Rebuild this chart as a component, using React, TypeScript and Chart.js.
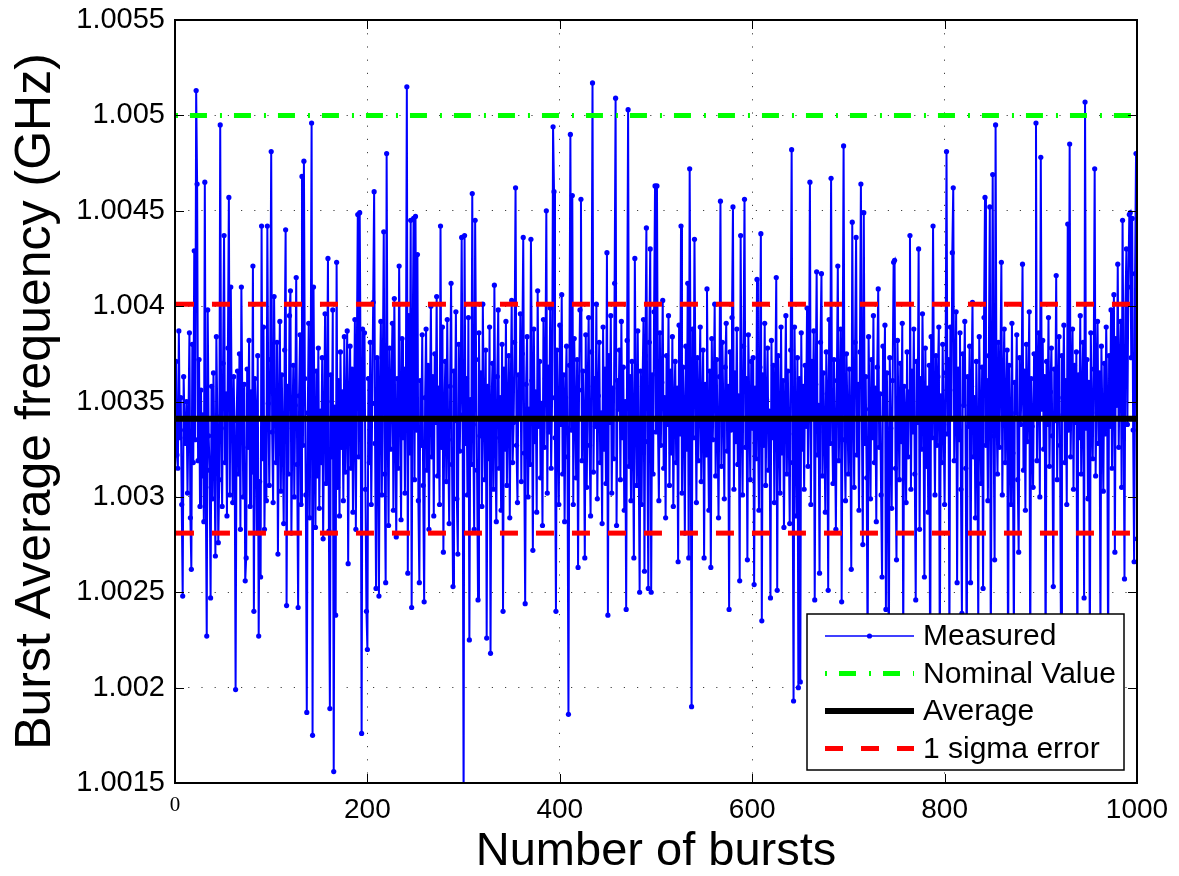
import React, { useEffect, useRef } from "react";
import { Chart, registerables } from "chart.js";

Chart.register(...registerables);

// ---- axis ticks ----
const xTickValues = [0, 200, 400, 600, 800, 1000];
const yTickValues = [1.0015, 1.002, 1.0025, 1.003, 1.0035, 1.004, 1.0045, 1.005, 1.0055];

// ---- reference levels (GHz) ----
const nominalValue = 1.005;
const averageValue = 1.00341;
const sigmaUpper = 1.00401;
const sigmaLower = 1.00281;
const burstSpan = [1, 1000];

// ---- measured burst average frequency (GHz), bursts 1..1000 ----
const measured001to100 = [
  1.00371, 1.00322, 1.00315, 1.00387, 1.00331, 1.00352, 1.00296, 1.00248, 1.00363, 1.00335,
  1.00328, 1.0035, 1.00302, 1.00341, 1.00386, 1.00289, 1.00262, 1.0038, 1.00318, 1.00429,
  1.0033, 1.00513, 1.00464, 1.00319, 1.00372, 1.00295, 1.00356, 1.00311, 1.00343, 1.00287,
  1.00465, 1.00305, 1.00227, 1.00398, 1.00332, 1.00314, 1.00247, 1.00358, 1.00299, 1.00365,
  1.00321, 1.00269, 1.00384, 1.00342, 1.00276, 1.00309, 1.00495, 1.00336, 1.00295, 1.0037,
  1.00437, 1.00318, 1.00354, 1.0029, 1.00378, 1.00457, 1.00301, 1.0041, 1.00345, 1.00297,
  1.00363, 1.00327, 1.00199, 1.0034, 1.00366, 1.00312, 1.00375, 1.00283, 1.0041, 1.00349,
  1.003, 1.00359, 1.00256, 1.00268, 1.00367, 1.00326, 1.00382, 1.00295, 1.00355, 1.00313,
  1.00421, 1.0024, 1.00362, 1.00345, 1.00281, 1.00374, 1.00227, 1.00308, 1.00258, 1.00442,
  1.0032, 1.00389, 1.00283, 1.00339, 1.00298, 1.00442, 1.00349, 1.00306, 1.00372, 1.00481,
];
const measured101to200 = [
  1.00334, 1.00297, 1.00405, 1.00352, 1.00318, 1.00381, 1.0027, 1.00346, 1.00392, 1.00303,
  1.00364, 1.00329, 1.00286, 1.00377, 1.0044, 1.00243, 1.00358, 1.00312, 1.00395, 1.00408,
  1.00281, 1.00336, 1.00369, 1.003, 1.00348, 1.00415, 1.00317, 1.00242, 1.00353, 1.00385,
  1.00296, 1.00468, 1.00327, 1.00476, 1.00362, 1.00301, 1.00187, 1.00344, 1.00391, 1.00289,
  1.00357, 1.00496, 1.00175, 1.0041, 1.00333, 1.00284, 1.00366, 1.00311, 1.00378, 1.00294,
  1.00345, 1.00318, 1.00373, 1.00278, 1.00339, 1.00396, 1.00307, 1.0035, 1.00425, 1.00282,
  1.00189, 1.00364, 1.00321, 1.00398, 1.00156, 1.00347, 1.00238, 1.00423, 1.00305, 1.00361,
  1.0029, 1.00376, 1.00326, 1.00355, 1.00298, 1.00384, 1.00313, 1.00343, 1.00387, 1.00265,
  1.00352, 1.00379, 1.00315, 1.00367, 1.00292, 1.00338, 1.00393, 1.00283, 1.00372, 1.00448,
  1.00321, 1.00449, 1.00359, 1.00176, 1.00388, 1.00342, 1.00386, 1.00304, 1.0024, 1.0022,
];
const measured201to300 = [
  1.00362, 1.00318, 1.00381, 1.00296, 1.00349, 1.00402, 1.0046, 1.00328, 1.00252, 1.00373,
  1.00336, 1.00248, 1.00359, 1.00392, 1.00301, 1.00365, 1.00439, 1.00312, 1.00255, 1.0048,
  1.00341, 1.00285, 1.00378, 1.00325, 1.00356, 1.00391, 1.00293, 1.00404, 1.00337, 1.00279,
  1.00362, 1.00315, 1.00421, 1.00346, 1.00288, 1.00383, 1.00331, 1.00367, 1.00302, 1.00354,
  1.00515, 1.0026, 1.00395, 1.00323, 1.00445, 1.00242, 1.00376, 1.00446, 1.00309, 1.00447,
  1.00335, 1.00427, 1.00298, 1.00255, 1.00361, 1.00327, 1.00385, 1.00306, 1.00245, 1.00352,
  1.00388, 1.00314, 1.00369, 1.00283, 1.00347, 1.004, 1.00321, 1.00363, 1.0029, 1.00375,
  1.00339, 1.00405, 1.00311, 1.00357, 1.00296, 1.00442, 1.00326, 1.00389, 1.00271, 1.00345,
  1.00371, 1.00308, 1.00393, 1.0033, 1.00286, 1.00358, 1.00412, 1.00317, 1.00253, 1.00366,
  1.0034, 1.00397, 1.00299, 1.0027, 1.0038, 1.00324, 1.00354, 1.00436, 1.00343, 1.00138,
];
const measured301to400 = [
  1.00437, 1.00328, 1.00362, 1.00301, 1.00394, 1.00225, 1.00351, 1.00317, 1.00459, 1.00338,
  1.00283, 1.00445, 1.00372, 1.00314, 1.00246, 1.00386, 1.00332, 1.00365, 1.00295, 1.00401,
  1.00344, 1.00309, 1.00377, 1.00226, 1.00358, 1.0032, 1.00389, 1.00218, 1.00347, 1.0037,
  1.00304, 1.00411, 1.00331, 1.00287, 1.00363, 1.00398, 1.00315, 1.00352, 1.00293, 1.0038,
  1.0024, 1.00367, 1.00325, 1.00392, 1.00306, 1.00348, 1.00374, 1.00289, 1.00356, 1.00403,
  1.00318, 1.00339, 1.00381, 1.00462, 1.00327, 1.00297, 1.00364, 1.00342, 1.00396, 1.00308,
  1.00375, 1.00436, 1.00323, 1.00244, 1.00359, 1.00384, 1.003, 1.00346, 1.00317, 1.00435,
  1.00361, 1.00272, 1.00388, 1.00329, 1.00355, 1.00292, 1.00408, 1.00337, 1.00371, 1.0031,
  1.00349, 1.00285, 1.00393, 1.00326, 1.00362, 1.0045, 1.00302, 1.00368, 1.00334, 1.00399,
  1.00315, 1.00352, 1.00494, 1.0046, 1.00331, 1.0024, 1.00377, 1.00343, 1.00296, 1.0039,
];
const measured401to500 = [
  1.00338, 1.00406, 1.00312, 1.00364, 1.00287, 1.00352, 1.00379, 1.00321, 1.00186, 1.00369,
  1.0049, 1.00335, 1.00458, 1.00296, 1.00383, 1.00347, 1.0031, 1.00372, 1.00263, 1.00356,
  1.00398, 1.00456, 1.00319, 1.00366, 1.00341, 1.00268, 1.00385, 1.00305, 1.00358, 1.00394,
  1.00327, 1.0029, 1.00376, 1.00517, 1.00313, 1.00362, 1.00337, 1.00401, 1.00299, 1.00353,
  1.00381, 1.00318, 1.00344, 1.00286, 1.00389, 1.00325, 1.00367, 1.00307, 1.00428, 1.00238,
  1.00374, 1.00339, 1.00395, 1.00302, 1.00357, 1.0032, 1.00412, 1.00509, 1.00285, 1.00361,
  1.00346, 1.00377, 1.00309, 1.00392, 1.00331, 1.00368, 1.00293, 1.0035, 1.00241, 1.00382,
  1.00503, 1.00316, 1.00363, 1.00298, 1.00371, 1.00335, 1.00268, 1.00425, 1.00344, 1.00306,
  1.00387, 1.00322, 1.0025, 1.00366, 1.00296, 1.00358, 1.00393, 1.00261, 1.00374, 1.00441,
  1.00329, 1.00252, 1.00381, 1.0043, 1.0025, 1.00364, 1.00312, 1.00397, 1.00463, 1.00334,
];
const measured501to600 = [
  1.00463, 1.00341, 1.00298, 1.00386, 1.00327, 1.0036, 1.00403, 1.00315, 1.00352, 1.00289,
  1.00374, 1.00338, 1.00395, 1.00306, 1.00366, 1.00323, 1.00384, 1.00295, 1.00349, 1.00371,
  1.00318, 1.00357, 1.00266, 1.0039, 1.00333, 1.00442, 1.00302, 1.00368, 1.00345, 1.00281,
  1.00379, 1.00325, 1.00412, 1.00268, 1.00472, 1.00354, 1.0019, 1.00388, 1.00331, 1.00435,
  1.00362, 1.00297, 1.00373, 1.00319, 1.0035, 1.00389, 1.00308, 1.00346, 1.00377, 1.00268,
  1.00359, 1.00322, 1.00409, 1.00341, 1.00293, 1.00366, 1.00263, 1.00383, 1.0033, 1.00356,
  1.00401, 1.00311, 1.00372, 1.00337, 1.00289, 1.00363, 1.00455, 1.00316, 1.00381, 1.00347,
  1.00299, 1.00368, 1.00391, 1.00324, 1.00358, 1.00241, 1.00376, 1.00335, 1.00394, 1.00452,
  1.00304, 1.00365, 1.00329, 1.00388, 1.00317, 1.00353, 1.00256, 1.00437, 1.00342, 1.00301,
  1.00379, 1.00456, 1.00326, 1.00362, 1.00267, 1.00385, 1.00348, 1.00309, 1.00371, 1.00336,
];
const measured601to700 = [
  1.00373, 1.00254, 1.00357, 1.0032, 1.00414, 1.00339, 1.00293, 1.00368, 1.00438, 1.00235,
  1.00364, 1.00327, 1.00391, 1.00306, 1.00351, 1.00378, 1.00314, 1.00345, 1.00247, 1.00382,
  1.00331, 1.00369, 1.00297, 1.00356, 1.00415, 1.00251, 1.00374, 1.00338, 1.00302, 1.00389,
  1.00323, 1.00361, 1.00284, 1.00347, 1.00395, 1.00312, 1.00366, 1.00333, 1.00286, 1.00377,
  1.00482, 1.00318, 1.00193, 1.00389, 1.0034, 1.0029, 1.00373, 1.002, 1.00362, 1.00203,
  1.00386, 1.00325, 1.00358, 1.00304, 1.00369, 1.00337, 1.00399, 1.00316, 1.00352, 1.00465,
  1.00296, 1.00371, 1.00343, 1.00387, 1.00246, 1.00359, 1.00418, 1.00322, 1.00348, 1.0026,
  1.00381, 1.00417, 1.00311, 1.00365, 1.00334, 1.00292, 1.00376, 1.00354, 1.00251, 1.00393,
  1.00328, 1.00467, 1.00345, 1.00307, 1.00372, 1.00337, 1.00283, 1.00361, 1.00421, 1.00319,
  1.0035, 1.00388, 1.00245, 1.00366, 1.00484, 1.0033, 1.00298, 1.00375, 1.00344, 1.00312,
];
const measured701to800 = [
  1.00367, 1.00333, 1.00262, 1.00444, 1.00352, 1.00305, 1.00381, 1.00436, 1.00322, 1.00359,
  1.00293, 1.00376, 1.00464, 1.00341, 1.00275, 1.00449, 1.00328, 1.00363, 1.0031, 1.00215,
  1.00384, 1.00346, 1.00299, 1.00372, 1.00331, 1.00395, 1.00318, 1.00357, 1.00287, 1.00368,
  1.00409, 1.00326, 1.00354, 1.00301, 1.00258, 1.00379, 1.00342, 1.0039, 1.00241, 1.00365,
  1.0032, 1.00205, 1.00373, 1.00336, 1.00294, 1.00361, 1.00423, 1.00424, 1.00315, 1.00267,
  1.00382, 1.00347, 1.00309, 1.0037, 1.00329, 1.00391, 1.00222, 1.00358, 1.00343, 1.00297,
  1.00376, 1.00321, 1.00355, 1.00437, 1.00304, 1.00366, 1.00334, 1.00388, 1.00312, 1.00246,
  1.00371, 1.00339, 1.0043, 1.00283, 1.00362, 1.00325, 1.00396, 1.0035, 1.00258, 1.00378,
  1.00316, 1.00357, 1.00292, 1.00369, 1.00198, 1.00384, 1.00331, 1.00442, 1.00346, 1.00301,
  1.00374, 1.00327, 1.00363, 1.00389, 1.0021, 1.00353, 1.00318, 1.0038, 1.00338, 1.00296,
];
const measured801to900 = [
  1.00365, 1.00481, 1.00333, 1.00372, 1.0022, 1.00389, 1.00341, 1.00428, 1.00462, 1.00319,
  1.00356, 1.00397, 1.00255, 1.00367, 1.0033, 1.00386, 1.00304, 1.00239, 1.00375, 1.00348,
  1.00392, 1.00315, 1.00208, 1.00363, 1.00337, 1.00379, 1.00255, 1.00358, 1.00402, 1.00321,
  1.00352, 1.00289, 1.00371, 1.00336, 1.0023, 1.00384, 1.00345, 1.00307, 1.00368, 1.00252,
  1.00394, 1.00457, 1.00327, 1.00361, 1.00298, 1.00374, 1.00452, 1.00215, 1.0035, 1.00469,
  1.00332, 1.00267, 1.00495, 1.00343, 1.00312, 1.00381, 1.00326, 1.00365, 1.00423, 1.00301,
  1.00357, 1.00388, 1.00318, 1.00349, 1.00377, 1.00202, 1.00369, 1.00335, 1.00296, 1.00391,
  1.00323, 1.00225, 1.0036, 1.00344, 1.00385, 1.00309, 1.00271, 1.00373, 1.00338, 1.00356,
  1.00422, 1.00314, 1.00366, 1.00293, 1.0038, 1.00329, 1.00351, 1.00397, 1.00212, 1.00362,
  1.00337, 1.00305, 1.00375, 1.00343, 1.00496, 1.00319, 1.00359, 1.00386, 1.003, 1.00478,
];
const measured901to1000 = [
  1.00346, 1.00382, 1.00325, 1.00363, 1.0021, 1.00371, 1.00338, 1.00394, 1.00316, 1.00355,
  1.00378, 1.00332, 1.00253, 1.00367, 1.0034, 1.00416, 1.00309, 1.00352, 1.00384, 1.00327,
  1.00222, 1.00374, 1.00343, 1.0039, 1.00318, 1.00361, 1.00296, 1.00443, 1.00335, 1.00485,
  1.00321, 1.00358, 1.00388, 1.00304, 1.00369, 1.00339, 1.00376, 1.00205, 1.00364, 1.00331,
  1.00395, 1.00312, 1.00354, 1.00381, 1.00247, 1.00507, 1.00336, 1.00372, 1.00299, 1.0036,
  1.00215, 1.00386, 1.00344, 1.0032, 1.00367, 1.00472, 1.00311, 1.00357, 1.00392, 1.00328,
  1.00365, 1.00228, 1.00379, 1.00342, 1.00303, 1.0037, 1.00333, 1.00389, 1.00351, 1.00212,
  1.00374, 1.00337, 1.00398, 1.00315, 1.00362, 1.00406, 1.00271, 1.00383, 1.00348, 1.00422,
  1.00326, 1.00366, 1.00392, 1.00305, 1.00445, 1.00359, 1.00257, 1.00401, 1.0043, 1.00338,
  1.0041, 1.00448, 1.00449, 1.00373, 1.00446, 1.00335, 1.00266, 1.00417, 1.0048, 1.00278,
];

const measuredValues = [
  ...measured001to100, ...measured101to200, ...measured201to300, ...measured301to400,
  ...measured401to500, ...measured501to600, ...measured601to700, ...measured701to800,
  ...measured801to900, ...measured901to1000,
];

const FONT = "'Liberation Sans', Arial, Helvetica, sans-serif";

const framePlugin = {
  id: "matlabFrame",
  afterDatasetsDraw(chart: any) {
    const { ctx, chartArea: a, scales } = chart;
    ctx.save();
    ctx.strokeStyle = "#000";
    ctx.setLineDash([]);
    ctx.lineWidth = 1;
    const tl = 9;
    const seg = (x1: number, y1: number, x2: number, y2: number) => {
      ctx.beginPath();
      ctx.moveTo(x1, y1);
      ctx.lineTo(x2, y2);
      ctx.stroke();
    };
    scales.x.ticks.forEach((t: any) => {
      const px = Math.round(scales.x.getPixelForValue(t.value)) + 0.5;
      seg(px, a.bottom, px, a.bottom - tl);
      seg(px, a.top, px, a.top + tl);
    });
    scales.y.ticks.forEach((t: any) => {
      const py = Math.round(scales.y.getPixelForValue(t.value)) + 0.5;
      seg(a.left, py, a.left + tl, py);
      seg(a.right, py, a.right - tl, py);
    });
    ctx.lineWidth = 2;
    ctx.strokeRect(a.left, a.top, a.right - a.left, a.bottom - a.top);
    ctx.restore();
  },
};

const legendPlugin = {
  id: "insideLegend",
  afterDraw(chart: any) {
    const { ctx, chartArea: a } = chart;
    const items = chart.data.datasets.filter((d: any) => d.label);
    const w = 317;
    const rowH = 37.5;
    const h = 156;
    const left = a.right - 13 - w;
    const top = a.bottom - 13 - h;
    ctx.save();
    ctx.fillStyle = "#fff";
    ctx.fillRect(left, top, w, h);
    ctx.lineWidth = 1.5;
    ctx.strokeStyle = "#000";
    ctx.setLineDash([]);
    ctx.strokeRect(left, top, w, h);
    items.forEach((d: any, i: number) => {
      const cy = top + 22 + i * rowH;
      const x1 = left + 18;
      const x2 = left + 107;
      ctx.save();
      ctx.strokeStyle = d.borderColor;
      ctx.lineWidth = d.legendLineWidth || d.borderWidth;
      ctx.setLineDash(d.borderDash || []);
      ctx.lineDashOffset = d.borderDashOffset || 0;
      ctx.beginPath();
      ctx.moveTo(x1, cy);
      ctx.lineTo(x2, cy);
      ctx.stroke();
      if (d.pointRadius > 0) {
        ctx.setLineDash([]);
        ctx.fillStyle = d.pointBackgroundColor;
        ctx.beginPath();
        ctx.arc((x1 + x2) / 2, cy, d.pointRadius, 0, Math.PI * 2);
        ctx.fill();
      }
      ctx.restore();
      ctx.fillStyle = "#000";
      ctx.font = `30px ${FONT}`;
      ctx.textBaseline = "middle";
      ctx.textAlign = "left";
      ctx.fillText(d.label, left + 116, cy + 1);
    });
    ctx.restore();
  },
};

export default function App() {
  const canvasRef = useRef<HTMLCanvasElement | null>(null);

  useEffect(() => {
    const canvas = canvasRef.current;
    if (!canvas) return;
    const span = (v: number) => burstSpan.map((x) => ({ x, y: v }));
    const chart = new Chart(canvas, {
      type: "line",
      data: {
        datasets: [
          {
            label: "Measured",
            data: measuredValues.map((v, i) => ({ x: i + 1, y: v })),
            borderColor: "#0000ff",
            backgroundColor: "#0000ff",
            pointBackgroundColor: "#0000ff",
            pointBorderColor: "#0000ff",
            borderWidth: 2,
            legendLineWidth: 1.5,
            pointRadius: 2.6,
            pointBorderWidth: 0,
            tension: 0,
            order: 10,
          } as any,
          {
            label: "Nominal Value",
            data: span(nominalValue),
            borderColor: "#00ff00",
            borderWidth: 5,
            borderDash: [17, 13, 2, 12],
            borderDashOffset: 30,
            pointRadius: 0,
            order: 3,
          },
          {
            label: "Average",
            data: span(averageValue),
            borderColor: "#000000",
            borderWidth: 6,
            pointRadius: 0,
            order: 2,
          },
          {
            label: "1 sigma error",
            data: span(sigmaUpper),
            borderColor: "#ff0000",
            borderWidth: 5,
            borderDash: [18, 18],
            pointRadius: 0,
            order: 1,
          },
          {
            label: "",
            data: span(sigmaLower),
            borderColor: "#ff0000",
            borderWidth: 5,
            borderDash: [18, 18],
            pointRadius: 0,
            order: 1,
          },
        ],
      },
      options: {
        responsive: false,
        animation: false,
        events: [],
        layout: { padding: { top: 20, right: 42, left: 0, bottom: 0 } },
        plugins: {
          legend: { display: false },
          tooltip: { enabled: false },
        },
        scales: {
          x: {
            type: "linear",
            min: 0,
            max: 1000,
            afterBuildTicks: (scale: any) => {
              scale.ticks = xTickValues.map((value) => ({ value }));
            },
            afterFit: (scale: any) => {
              scale.height = 93;
              scale.paddingLeft = 0;
              scale.paddingRight = 0;
            },
            grid: {
              color: "rgba(0,0,0,0.75)",
              lineWidth: 1,
              drawTicks: false,
            },
            border: { display: false, dash: [1.2, 12] },
            ticks: {
              color: "#000",
              padding: 10,
              maxRotation: 0,
              autoSkip: false,
              font: (c: any) =>
                c.tick && c.tick.value === 0
                  ? { family: "'Liberation Serif', 'Times New Roman', serif", size: 21 }
                  : { family: FONT, size: 28 },
              callback: (v: any) => String(v),
            },
            title: {
              display: true,
              text: "Number of bursts",
              color: "#000",
              font: { family: FONT, size: 47, lineHeight: 1 },
              padding: { top: 0, bottom: 0 },
            },
          },
          y: {
            type: "linear",
            min: 1.0015,
            max: 1.0055,
            afterBuildTicks: (scale: any) => {
              scale.ticks = yTickValues.map((value) => ({ value }));
            },
            afterFit: (scale: any) => {
              scale.width = 175;
              scale.paddingTop = 0;
              scale.paddingBottom = 0;
            },
            grid: {
              color: "rgba(0,0,0,0.75)",
              lineWidth: 1,
              drawTicks: false,
            },
            border: { display: false, dash: [1.2, 12] },
            ticks: {
              color: "#000",
              padding: 10,
              autoSkip: false,
              font: { family: FONT, size: 29 },
              callback: (v: any) => String(Number(Number(v).toFixed(4))),
            },
            title: {
              display: true,
              text: "Burst Average frequency (GHz)",
              color: "#000",
              font: { family: FONT, size: 50, lineHeight: 1 },
              padding: { top: 11, bottom: 0 },
            },
          },
        },
      },
      plugins: [framePlugin, legendPlugin],
    });
    return () => chart.destroy();
  }, []);

  return (
    <div style={{ position: "absolute", left: 0, top: 0, width: 1179, height: 876, background: "#fff" }}>
      <canvas ref={canvasRef} width={1179} height={876} style={{ width: 1179, height: 876 }} />
    </div>
  );
}
